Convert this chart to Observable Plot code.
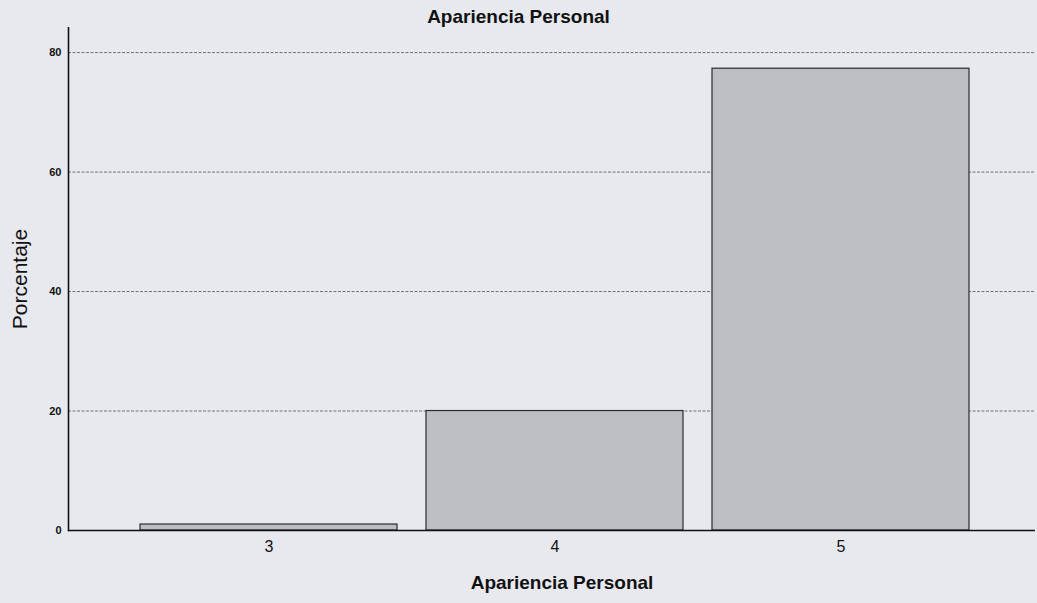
<!DOCTYPE html>
<html>
<head>
<meta charset="utf-8">
<script src="https://cdn.jsdelivr.net/npm/d3@7"></script>
<script src="https://cdn.jsdelivr.net/npm/@observablehq/plot@0.6"></script>
<style>
  html, body { margin: 0; padding: 0; background: #e7e9ef; }
  #wrap { width: 1037px; height: 603px; position: relative; font-family: "Liberation Sans", Arial, sans-serif; }
  #title { height: 27px; line-height: 23px; padding-top: 5px; text-align: center; font-size: 19px; font-weight: bold; color: #111; box-sizing: border-box; }
  svg { display: block; }
</style>
</head>
<body>
<div id="wrap">
  <div id="title">Apariencia Personal</div>
  <div id="chart"></div>
</div>
<script>
const categories = ["3", "4", "5"];
const percentages = [1.0, 20.0, 77.3];
const yTicks = [0, 20, 40, 60, 80];
const gridTicks = [20, 40, 60, 80];
const xLabel = "Apariencia Personal";
const yLabel = "Porcentaje";

const data = categories.map((c, i) => ({cat: c, pct: percentages[i]}));

const chart = Plot.plot({
  width: 1037,
  height: 576,
  marginLeft: 68,
  marginRight: 2,
  marginTop: 0,
  marginBottom: 73,
  style: {background: "transparent", fontFamily: "Liberation Sans, Arial, sans-serif", color: "#111"},
  x: {domain: categories, range: [139, 971], paddingInner: 0.1, paddingOuter: 0, label: null},
  y: {domain: [0, 84.2], label: null},
  marks: [
    Plot.ruleY(gridTicks, {stroke: "#555", strokeWidth: 1, strokeDasharray: "3,1.5", strokeOpacity: 0.8}),
    Plot.barY(data, {x: "cat", y: "pct", fill: "#bcbec4", stroke: "#2a2a2a", strokeWidth: 1.2}),
    Plot.ruleY([0], {stroke: "#111", strokeWidth: 1.6}),
    Plot.frame({anchor: "left", stroke: "#111", strokeWidth: 1.6}),
    Plot.axisY(yTicks, {tickSize: 0, tickPadding: 7, fontSize: 11, fontWeight: "bold", label: null}),
    Plot.axisX({tickSize: 0, tickPadding: 10, fontSize: 16, label: null}),
    Plot.text([yLabel], {frameAnchor: "left", textAnchor: "middle", rotate: -90, dx: -48, fontSize: 21, fill: "#111"}),
    Plot.text([xLabel], {frameAnchor: "bottom", dy: 58, dx: 10, fontSize: 19, fontWeight: "bold", fill: "#111"})
  ]
});
document.getElementById("chart").appendChild(chart);
</script>
</body>
</html>
